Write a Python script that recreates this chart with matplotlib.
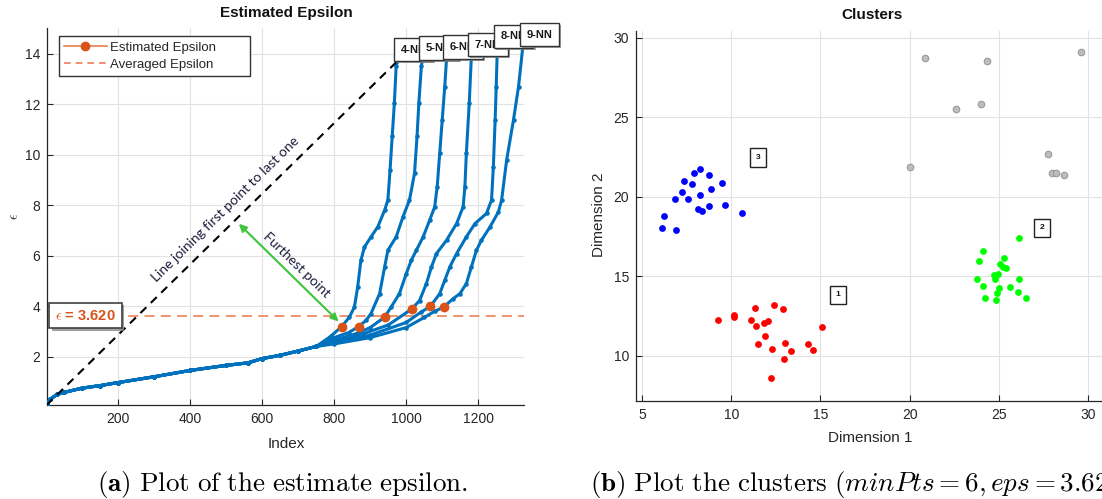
import matplotlib
matplotlib.use("Agg")
import matplotlib.pyplot as plt
import matplotlib.patheffects as pe
from matplotlib.lines import Line2D

plt.rcParams['font.family'] = ['Liberation Sans', 'DejaVu Sans']
plt.rcParams['mathtext.fontset'] = 'cm'

# ---------------- data: left panel (k-distance curves) ----------------
base_x = [1, 10, 30, 50, 100, 150, 200, 300, 400, 500, 560, 600, 650, 700, 750]
base_y = [0.08, 0.3, 0.5, 0.58, 0.75, 0.85, 0.97, 1.2, 1.45, 1.65, 1.75, 1.92, 2.05, 2.22, 2.4]

nn4_x = [790, 821, 842, 856, 865, 874, 884, 902, 921, 940, 949, 955, 961, 967, 972, 975]
nn4_y = [2.8, 3.19, 3.56, 3.96, 4.75, 5.81, 6.34, 6.74, 7.14, 7.8, 8.2, 9.39, 10.72, 12.04, 13.5, 13.7]

nn5_x = [800, 840, 868, 888, 902, 926, 940, 949, 972, 991, 1009, 1023, 1030, 1035, 1042, 1045]
nn5_y = [2.75, 2.95, 3.19, 3.43, 3.7, 4.49, 5.55, 6.21, 6.74, 7.54, 8.2, 9.26, 10.72, 12.04, 13.5, 13.76]

nn6_x = [800, 860, 900, 940, 958, 981, 1000, 1014, 1028, 1047, 1065, 1079, 1086, 1093, 1100, 1107, 1112]
nn6_y = [2.65, 2.9, 3.15, 3.56, 3.96, 4.49, 5.28, 5.81, 6.21, 6.74, 7.4, 7.93, 8.73, 10.05, 11.38, 12.7, 13.8]

nn7_x = [800, 880, 950, 1016, 1037, 1056, 1070, 1084, 1112, 1140, 1158, 1163, 1167, 1175, 1181]
nn7_y = [2.6, 2.9, 3.25, 3.89, 4.22, 4.89, 5.55, 6.08, 6.61, 7.27, 7.93, 8.73, 10.05, 12.04, 13.9]

nn8_x = [800, 900, 1000, 1040, 1067, 1093, 1107, 1121, 1140, 1167, 1191, 1223, 1237, 1242, 1247, 1250, 1253]
nn8_y = [2.55, 2.85, 3.35, 3.75, 3.99, 4.49, 5.02, 5.55, 6.08, 6.74, 7.27, 7.67, 8.2, 9.52, 11.38, 12.7, 14.23]

nn9_x = [800, 900, 1000, 1050, 1080, 1104, 1130, 1149, 1167, 1181, 1195, 1209, 1233, 1256, 1265, 1279, 1298, 1312, 1324]
nn9_y = [2.5, 2.75, 3.15, 3.55, 3.8, 3.96, 4.29, 4.49, 4.89, 5.55, 6.21, 6.61, 7.14, 7.73, 8.2, 9.79, 11.38, 12.7, 14.29]

curve_labels = ['4-NN', '5-NN', '6-NN', '7-NN', '8-NN', '9-NN']
curves_x = [nn4_x, nn5_x, nn6_x, nn7_x, nn8_x, nn9_x]
curves_y = [nn4_y, nn5_y, nn6_y, nn7_y, nn8_y, nn9_y]

est_x = [821, 868, 940, 1016, 1067, 1104]
est_y = [3.19, 3.19, 3.56, 3.89, 3.99, 3.96]
avg_eps = 3.62

# ---------------- data: right panel (clusters) ----------------
c3_x = [6.09, 6.24, 6.87, 6.85, 7.21, 7.36, 7.58, 7.79, 7.92, 8.24, 8.24, 8.11, 8.35, 8.74, 8.72, 8.85, 9.45, 9.62, 10.61]
c3_y = [18.05, 18.8, 17.88, 19.83, 20.31, 20.99, 19.83, 20.78, 21.47, 21.74, 20.13, 19.2, 19.12, 21.38, 19.41, 20.5, 20.86, 19.48, 18.95]

c1_x = [9.27, 10.16, 10.16, 11.1, 11.32, 11.4, 11.83, 12.04, 11.87, 11.47, 12.26, 12.37, 12.92, 13.03, 13.36, 12.93, 12.24, 14.3, 14.56, 15.1]
c1_y = [12.24, 12.54, 12.41, 12.26, 12.98, 11.87, 12.05, 12.2, 11.24, 10.73, 10.44, 13.17, 12.91, 10.78, 10.31, 9.81, 8.6, 10.73, 10.38, 11.82]

c2_x = [26.13, 24.14, 25.32, 23.88, 25.06, 25.27, 25.4, 24.76, 24.97, 24.78, 23.79, 26.13, 24.14, 25.0, 25.66, 24.89, 26.11, 24.24, 24.84, 26.54]
c2_y = [17.38, 16.58, 16.12, 15.93, 15.79, 15.6, 15.49, 15.05, 15.12, 14.82, 14.84, 14.84, 14.4, 14.28, 14.3, 13.92, 13.98, 13.61, 13.52, 13.65]

noise_x = [20.87, 24.33, 29.63, 22.61, 24.03, 20.04, 27.75, 28.0, 28.2, 28.69]
noise_y = [28.7, 28.55, 29.12, 25.51, 25.81, 21.84, 22.66, 21.47, 21.47, 21.38]

cluster_ids = ['1', '2', '3']
cluster_lbl_x = [15.98, 27.42, 11.5]
cluster_lbl_y = [13.82, 18.03, 22.45]

# ---------------- figure ----------------
W, H = 1102, 499
fig = plt.figure(figsize=(W / 100, H / 100), dpi=100)


def rect(l, t, r, b):
    return [l / W, 1 - b / H, (r - l) / W, (b - t) / H]


AX = '#262626'


def style(ax):
    for s in ['top', 'right']:
        ax.spines[s].set_visible(False)
    for s in ['left', 'bottom']:
        ax.spines[s].set_color(AX)
        ax.spines[s].set_linewidth(0.9)
    ax.tick_params(direction='in', length=4, width=0.8, color=AX,
                   labelsize=10, labelcolor=AX, pad=5)
    ax.grid(True, color='#E2E2E2', lw=0.8)
    ax.set_axisbelow(True)


ax1 = fig.add_axes(rect(47.3, 27.7, 524.3, 405))
style(ax1)
ax1.set_xlim(2.8, 1328)
ax1.set_ylim(0.08, 15.03)
ax1.set_xticks([200, 400, 600, 800, 1000, 1200])
ax1.set_yticks([2, 4, 6, 8, 10, 12, 14])

blue = '#0072BD'
for cx, cy in zip(curves_x, curves_y):
    xs = base_x + cx
    ys = base_y + cy
    ax1.plot(xs, ys, color=blue, lw=2.2, marker='.', ms=4.5, zorder=3)

# dashed line first to last point of 4-NN
ax1.plot([base_x[0], nn4_x[-1]], [base_y[0], nn4_y[-1]], color='black',
         lw=1.5, dashes=(4, 3), zorder=4)

ax1.axhline(avg_eps, color='#EF8A62', lw=1.3, dashes=(5.5, 3.5), zorder=2)
ax1.plot(est_x, est_y, 'o', color='#D95319', ms=6, zorder=5)

shadow = [pe.withSimplePatchShadow(offset=(1.5, -1.5), shadow_rgbFace='#888888', alpha=0.8)]

for lbl, cx, cy in zip(curve_labels, curves_x, curves_y):
    t = ax1.annotate(lbl, xy=(cx[-1], cy[-1]), xytext=(2.5, 4.8),
                     textcoords='offset points', ha='left', va='bottom',
                     fontsize=8, fontweight='bold', color='#1a1a1a',
                     bbox=dict(boxstyle='square,pad=0.6', fc='white', ec='#333333', lw=1.0),
                     zorder=10, annotation_clip=False)
    t.get_bbox_patch().set_path_effects(shadow)

t = ax1.text(25, avg_eps, r'$\epsilon$ = 3.620', color='#D95319', fontsize=10.5,
             fontweight='bold', ha='left', va='center', zorder=10,
             bbox=dict(boxstyle='square,pad=0.4', fc='white', ec='#404040', lw=1.2))
t.get_bbox_patch().set_path_effects(shadow)

ax1.text(497.5, 7.82, 'Line joining first point to last one', rotation=44.5,
         rotation_mode='anchor', ha='center', va='center', fontsize=10,
         family=['Lato', 'DejaVu Sans'], color='#1c1c3c', zorder=6)
ax1.annotate('', xy=(812, 3.39), xytext=(535, 7.26),
             arrowprops=dict(arrowstyle='<|-|>', color='#3CC43C', lw=1.5,
                             mutation_scale=11, shrinkA=0, shrinkB=0), zorder=6)
ax1.text(695.8, 5.61, 'Furthest point', rotation=-44, rotation_mode='anchor',
         ha='center', va='center', fontsize=10, family=['Lato', 'DejaVu Sans'],
         color='#1c1c3c', zorder=6)

handles = [Line2D([], [], color='#E8804F', lw=1.2, marker='o', ms=6,
                  markerfacecolor='#D95319', markeredgecolor='#D95319'),
           Line2D([], [], color='#EE7C55', lw=1.2, dashes=(4, 3))]
leg = ax1.legend(handles, ['Estimated Epsilon', 'Averaged Epsilon'],
                 loc='upper left', bbox_to_anchor=((59 - 47.3) / 477, 1 - (40 - 27.7) / 377.3, 0.4004, 0.01),
                 mode='expand', borderaxespad=0, borderpad=0.4, handlelength=3.2,
                 handletextpad=0.3, labelspacing=0.35, fontsize=9.5, fancybox=False,
                 framealpha=1, edgecolor='#333333')
leg.get_frame().set_linewidth(1.0)
for txt in leg.get_texts():
    txt.set_color(AX)

fig.text(286 / W, 1 - 13.3 / H, 'Estimated Epsilon', ha='center', va='center',
         fontsize=11, fontweight='bold', color='#111111')
fig.text(286 / W, 1 - 443.5 / H, 'Index', ha='center', va='center', fontsize=11, color=AX)
fig.text(14 / W, 1 - 216 / H, r'$\epsilon$', ha='center', va='center', fontsize=10,
         rotation=90, color=AX)

# ---------------- right panel ----------------
ax2 = fig.add_axes(rect(636, 31.3, 1107.4, 401))
style(ax2)
ax2.set_xlim(4.65, 31.1)
ax2.set_ylim(7.15, 30.4)
ax2.set_xticks([5, 10, 15, 20, 25, 30])
ax2.set_yticks([10, 15, 20, 25, 30])

ax2.scatter(c1_x, c1_y, s=24, color='#FF0000', linewidths=0, zorder=3)
ax2.scatter(c2_x, c2_y, s=24, color='#00FF00', linewidths=0, zorder=3)
ax2.scatter(c3_x, c3_y, s=24, color='#0000FF', linewidths=0, zorder=3)
ax2.scatter(noise_x, noise_y, s=22, color='#BDBDBD', edgecolors='#9A9A9A', linewidths=0.8, zorder=3)

for lbl, lx, ly in zip(cluster_ids, cluster_lbl_x, cluster_lbl_y):
    ax2.text(lx, ly, lbl, fontsize=6, fontweight='bold', ha='center', va='center',
             color='#111111', zorder=6,
             bbox=dict(boxstyle='square,pad=0.7', fc='white', ec='#222222', lw=1.0))

fig.text(871.7 / W, 1 - 15 / H, 'Clusters', ha='center', va='center',
         fontsize=11, fontweight='bold', color='#111111')
fig.text(870 / W, 1 - 438.3 / H, 'Dimension 1', ha='center', va='center', fontsize=11, color=AX)
fig.text(599.3 / W, 1 - 215 / H, 'Dimension 2', ha='center', va='center', fontsize=11,
         rotation=90, color=AX)

# ---------------- captions ----------------
fig.text(282.5 / W, 1 - 485 / H,
         r'$\mathbf{(a)}\ \mathrm{Plot\ of\ the\ estimate\ epsilon.}$',
         ha='center', va='center', fontsize=19.5, color='black')
fig.text(590 / W, 1 - 485 / H,
         r'$\mathbf{(b)}\ \mathrm{Plot\ the\ clusters}\ (minPts = 6, eps = 3.62)$',
         ha='left', va='center', fontsize=19.5, color='black')

fig.savefig('out.png', dpi=100)
